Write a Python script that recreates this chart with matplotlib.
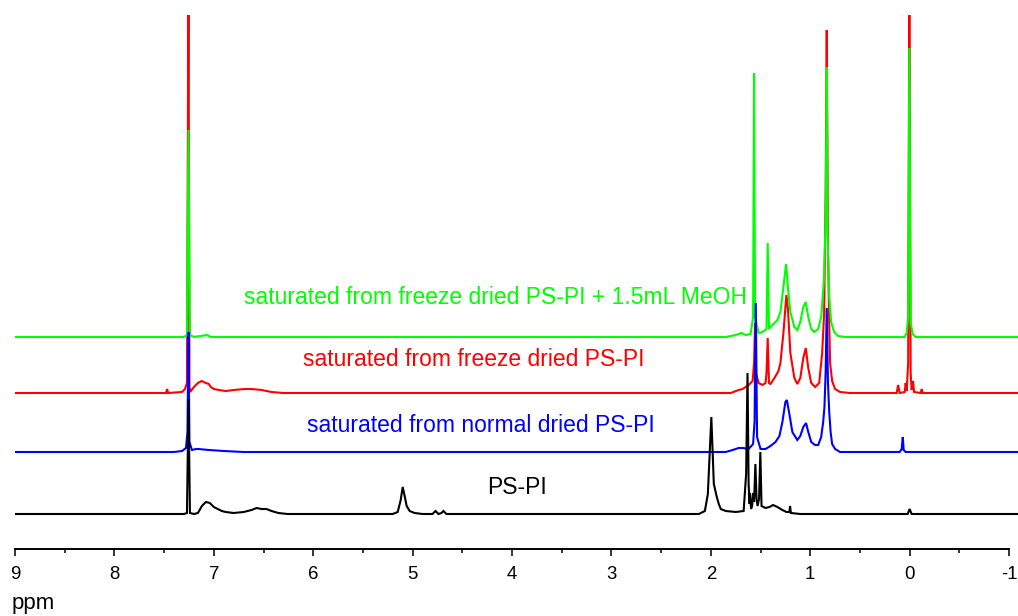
import matplotlib
matplotlib.use("Agg")
import matplotlib.pyplot as plt
import numpy as np

plt.rcParams['font.family'] = ['Liberation Sans', 'DejaVu Sans']

# spectra: chemical shift (ppm) and intensity above own baseline
black_ppm = [9.0, 7.30, 7.27, 7.255, 7.24, 7.20, 7.16, 7.12, 7.08, 7.04, 7.00, 6.96, 6.92, 6.88,
             6.80, 6.70, 6.62, 6.57, 6.52, 6.47, 6.42, 6.35, 6.26, 5.20, 5.15, 5.12, 5.10, 5.08,
             5.06, 5.03, 4.98, 4.90, 4.80, 4.77, 4.74, 4.71, 4.69, 4.66, 2.12, 2.06, 2.03, 1.995,
             1.97, 1.94, 1.92, 1.90, 1.85, 1.75, 1.67, 1.645, 1.631, 1.62, 1.61, 1.606, 1.595,
             1.585, 1.575, 1.565, 1.552, 1.54, 1.53, 1.515, 1.502, 1.49, 1.45, 1.41, 1.374, 1.33,
             1.28, 1.24, 1.21, 1.203, 1.195, 1.10, 0.02, 0.0, -0.02, -1.1]
black_int = [0, 0, 1, 115, 1, 0, 1, 8, 12, 11, 7, 5, 3, 2,
             1, 2, 4, 6, 5, 5, 3, 1, 0, 0, 2, 14, 27, 18,
             8, 3, 1, 0, 0, 3, 0, 1, 3, 0, 0, 3, 20, 97,
             30, 17, 10, 5, 3, 2, 3, 40, 141, 30, 10, 21, 5,
             8, 21, 12, 50, 15, 8, 15, 62, 8, 6, 7, 9, 7,
             4, 2, 2, 8, 1, 0, 0, 5, 0, 0]

blue_ppm = [9.0, 7.40, 7.32, 7.28, 7.265, 7.255, 7.245, 7.22, 7.18, 7.156, 7.05, 6.90, 6.70,
            1.85, 1.78, 1.72, 1.676, 1.62, 1.575, 1.56, 1.548, 1.535, 1.50, 1.45, 1.40, 1.35,
            1.31, 1.28, 1.25, 1.235, 1.21, 1.18, 1.13, 1.10, 1.07, 1.042, 1.02, 0.99, 0.952,
            0.92, 0.89, 0.87, 0.857, 0.845, 0.834, 0.822, 0.809, 0.795, 0.78, 0.75, 0.70,
            0.10, 0.08, 0.069, 0.06, 0.04, -1.1]
blue_int = [0, 0, 1, 4, 20, 120, 10, 2, 3, 3, 2, 1, 0,
            0, 2, 4, 4, 3, 8, 30, 149, 15, 3, 3, 6, 10,
            16, 30, 50, 52, 38, 20, 12, 16, 25, 29, 20, 10, 7,
            7, 15, 30, 45, 80, 144, 70, 40, 20, 8, 3, 0,
            0, 3, 15, 2, 0, 0]

red_ppm = [9.0, 7.48, 7.47, 7.46, 7.32, 7.29, 7.27, 7.255, 7.245, 7.23, 7.20, 7.16, 7.122,
           7.08, 7.05, 7.03, 7.00, 6.95, 6.88, 6.80, 6.69, 6.62, 6.52, 6.42, 6.30,
           1.80, 1.72, 1.68, 1.62, 1.58, 1.565, 1.555, 1.545, 1.52, 1.48, 1.45, 1.44, 1.428,
           1.415, 1.40, 1.36, 1.32, 1.30, 1.27, 1.24, 1.225, 1.20, 1.16, 1.13, 1.10, 1.07,
           1.045, 1.02, 0.99, 0.95, 0.91, 0.88, 0.86, 0.845, 0.834, 0.822, 0.81, 0.80, 0.78,
           0.75, 0.70, 0.60, 0.20, 0.13, 0.116, 0.10, 0.05, 0.04, 0.03, 0.015, 0.003, -0.01,
           -0.02, -0.034, -0.045, -0.11, -0.122, -0.13, -1.1]
red_int = [0, 0, 4, 0, 1, 4, 10, 420, 5, 2, 6, 10, 12,
           10, 9, 6, 4, 3, 2, 3, 4, 4, 3, 1, 0,
           0, 3, 4, 8, 12, 30, 70, 20, 10, 8, 10, 20, 55,
           10, 9, 15, 22, 30, 60, 98, 85, 40, 15, 9, 15, 35,
           45, 25, 10, 6, 10, 40, 80, 200, 363, 150, 73, 30, 12,
           4, 1, 0, 0, 0, 8, 0, 1, 10, 2, 30, 420, 20,
           3, 12, 1, 0, 4, 0, 0]

green_ppm = [9.0, 7.30, 7.27, 7.255, 7.24, 7.20, 7.07, 7.03, 1.85, 1.75, 1.69, 1.65, 1.60,
             1.575, 1.565, 1.555, 1.52, 1.48, 1.44, 1.428, 1.415, 1.40, 1.37, 1.33, 1.30, 1.27,
             1.243, 1.225, 1.20, 1.16, 1.13, 1.10, 1.07, 1.045, 1.02, 0.99, 0.96, 0.92, 0.89,
             0.862, 0.845, 0.834, 0.825, 0.81, 0.79, 0.76, 0.72, 0.65, 0.05, 0.03, 0.015, 0.003,
             -0.01, -0.03, -0.06, -1.1]
green_int = [0, 0, 2, 207, 2, 0, 2, 0, 0, 2, 4, 2, 3,
             20, 264, 20, 4, 5, 8, 94, 8, 10, 13, 17, 25, 50,
             73, 50, 25, 10, 7, 15, 30, 35, 20, 8, 5, 8, 20,
             57, 120, 270, 100, 42, 15, 5, 1, 0, 0, 4, 20, 289,
             15, 3, 0, 0]

labels = ["PS-PI", "saturated from normal dried PS-PI",
          "saturated from freeze dried PS-PI", "saturated from freeze dried PS-PI + 1.5mL MeOH"]
x_ticks = [9, 8, 7, 6, 5, 4, 3, 2, 1, 0, -1]
x_tick_labels = ["9", "8", "7", "6", "5", "4", "3", "2", "1", "0", "-1"]

# stacking offsets of the traces (bottom to top)
offsets = {"black": 35, "blue": 97, "red": 156, "green": 212}
colors = {"black": "#000000", "blue": "#0000FF", "red": "#FF0000", "green": "#00FF00"}

fig = plt.figure(figsize=(10.18, 6.16), dpi=100)
ax = fig.add_axes([15 / 1018, 67 / 616, 1003 / 1018, 534 / 616])

traces = {
    "red": (red_ppm, red_int),
    "green": (green_ppm, green_int),
    "blue": (blue_ppm, blue_int),
    "black": (black_ppm, black_int),
}
for name, (ppm, inten) in traces.items():
    y = np.array(inten, dtype=float) + offsets[name]
    ax.plot(ppm, y, color=colors[name], lw=1.5, solid_joinstyle='miter')

ax.set_xlim(9, -1.09)
ax.set_ylim(0, 534)

# labels next to each trace
ax.text(3.95, 61, labels[0], color=colors["black"], fontsize=16.5, ha='center', va='center')
ax.text(4.312, 124, labels[1], color=colors["blue"], fontsize=16.5, ha='center', va='center')
ax.text(4.387, 189, labels[2], color=colors["red"], fontsize=16.5, ha='center', va='center')
ax.text(4.171, 252, labels[3], color=colors["green"], fontsize=16.5, ha='center', va='center')

for s in ['top', 'left', 'right']:
    ax.spines[s].set_visible(False)
ax.spines['bottom'].set_bounds(9, -1)
ax.spines['bottom'].set_linewidth(1.4)
ax.set_yticks([])
ax.set_xticks(x_ticks)
ax.set_xticklabels(x_tick_labels)
ax.set_xticks(np.arange(-0.5, 9, 1.0), minor=True)
ax.tick_params(axis='x', which='major', length=5, width=1.1, pad=7.5, labelsize=13.4)
ax.tick_params(axis='x', which='minor', length=3, width=1.1)

fig.text(12 / 1018, 1 - 603 / 616, "ppm", fontsize=16, ha='left', va='center')

fig.savefig("out.png", dpi=100)
